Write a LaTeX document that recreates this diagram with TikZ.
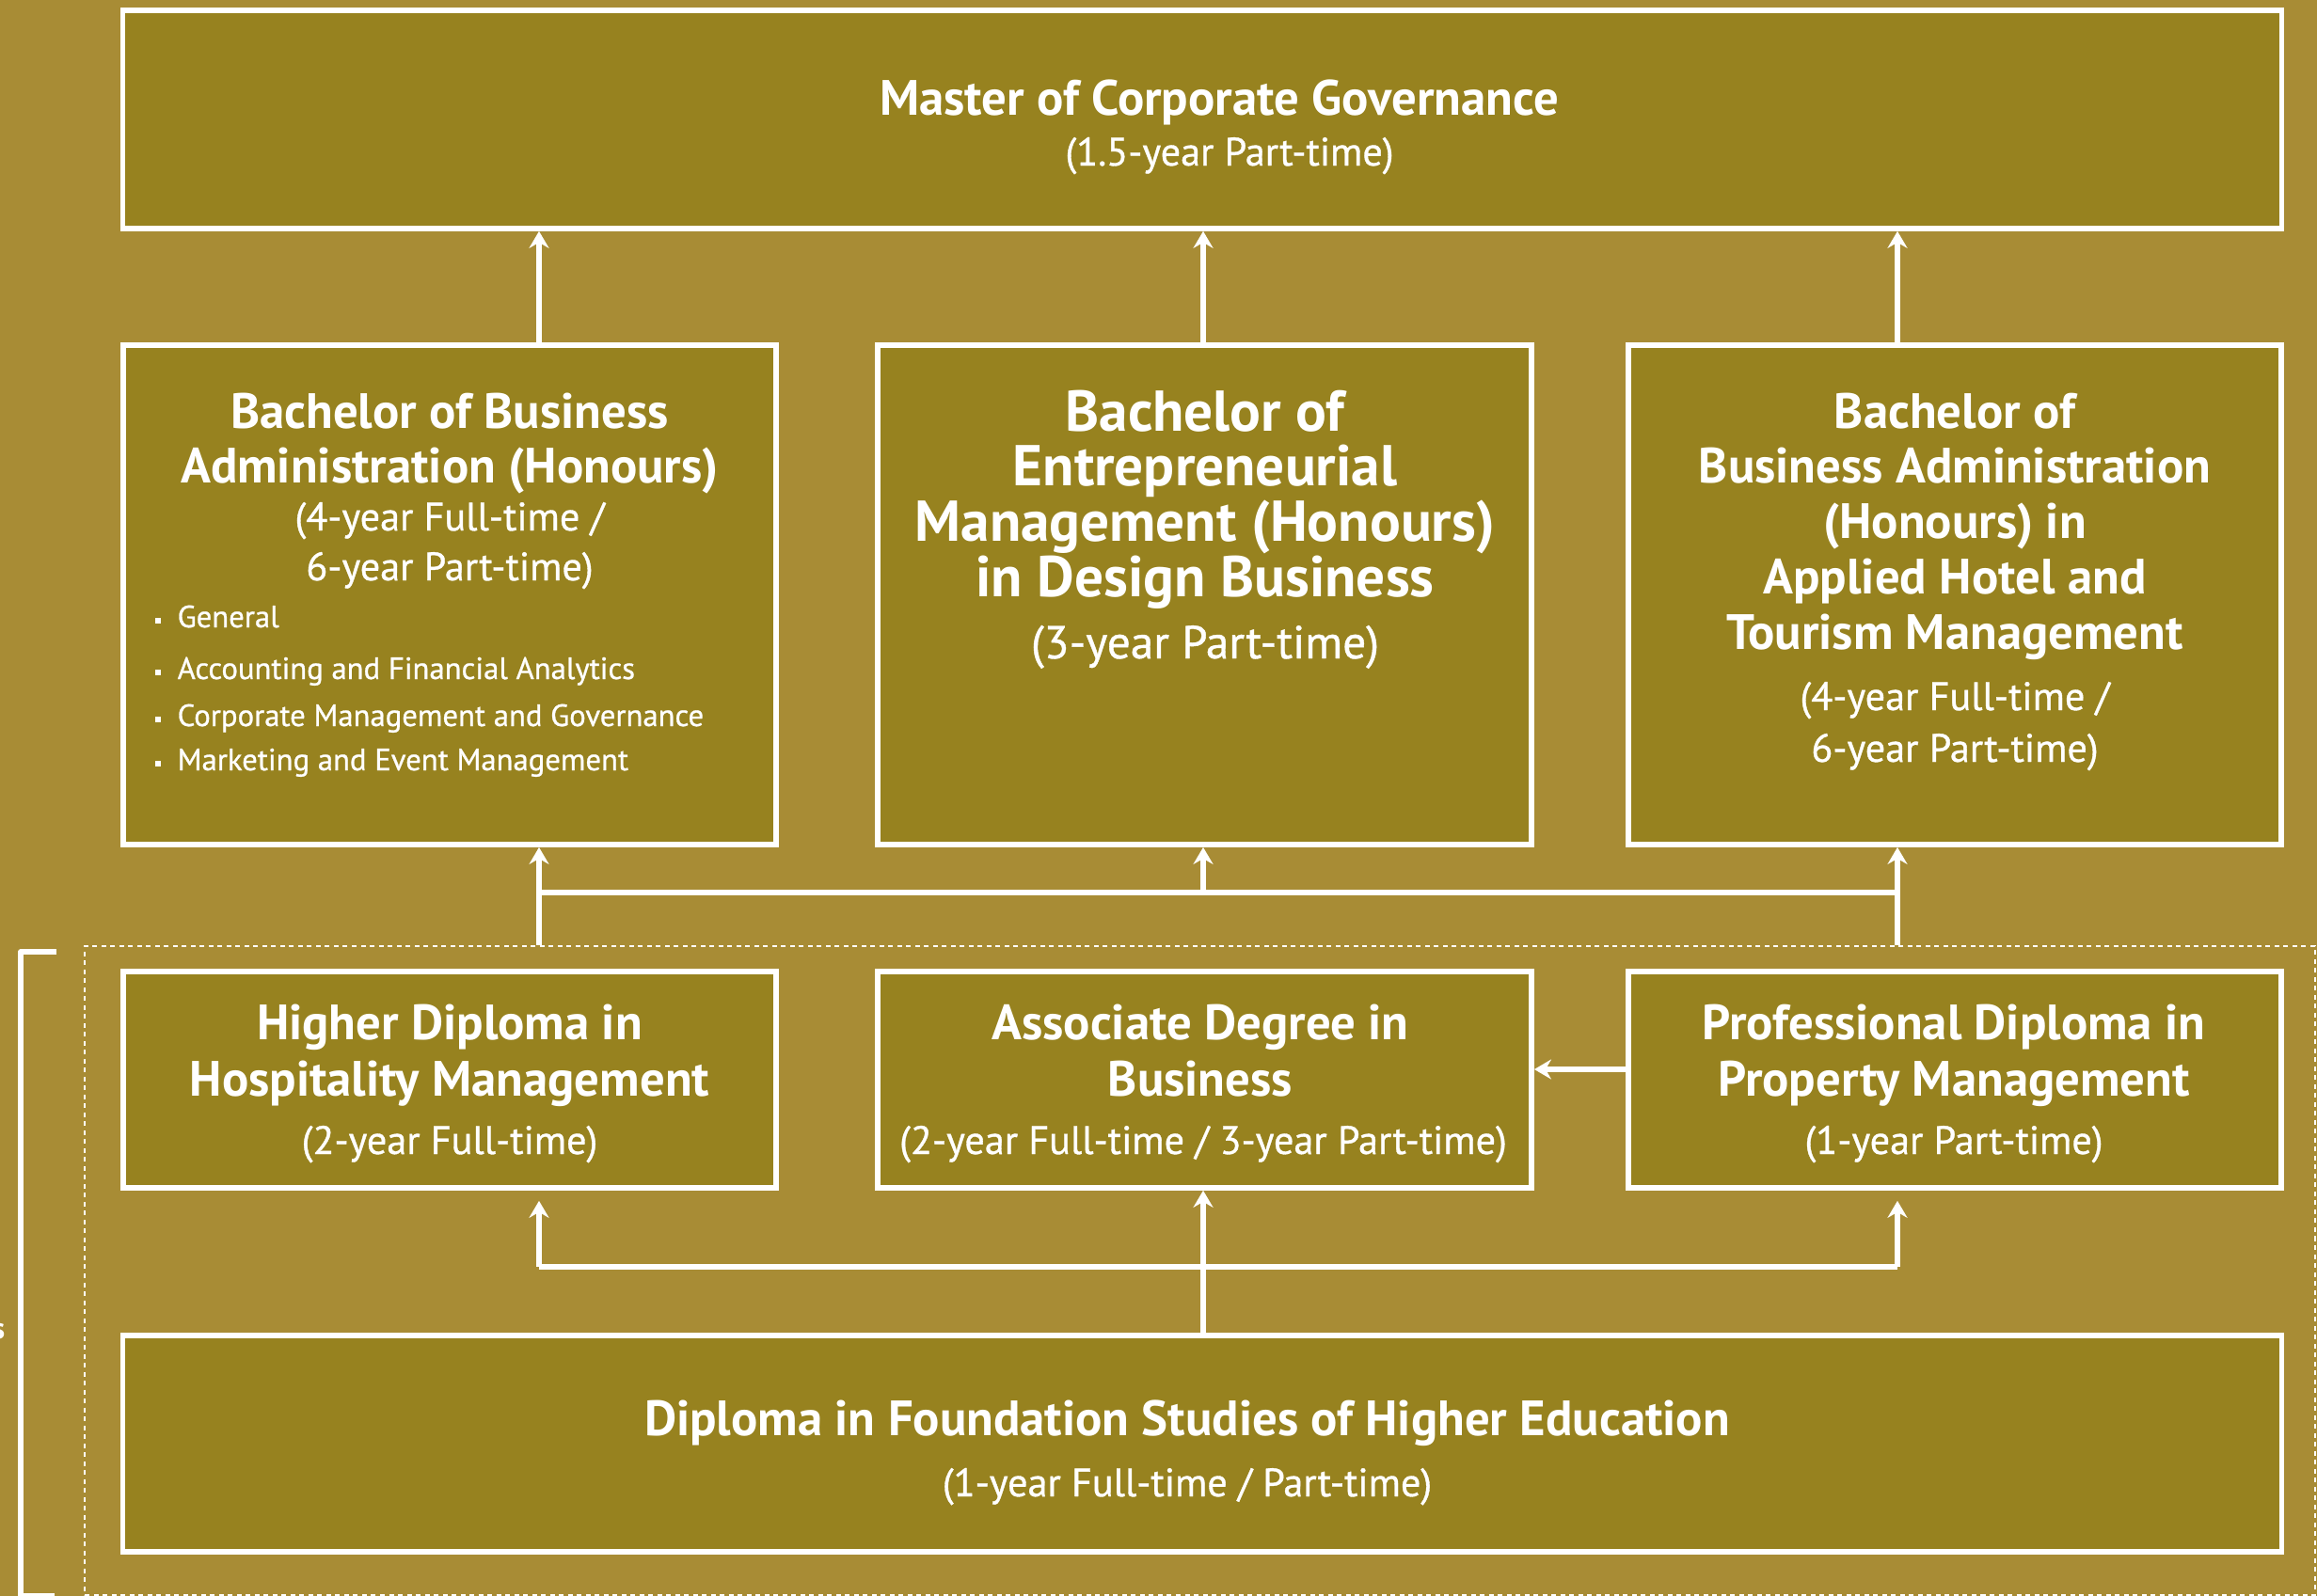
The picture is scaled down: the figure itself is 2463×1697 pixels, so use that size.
\documentclass[tikz,border=0pt]{standalone}
\usepackage{fontspec}
\setmainfont{PT Sans}
\newfontfamily\medfont{PT Sans}[FakeBold=0.8]
\usetikzlibrary{arrows.meta}
\definecolor{bgc}{HTML}{A88C35}
\definecolor{boxc}{HTML}{97821F}
\tikzset{
  box/.style={draw=white, line width=0.055cm, fill=boxc, inner sep=0, minimum height=#1},
  conn/.style={draw=white, line width=0.055cm},
  arr/.style={conn, -{Stealth[length=0.18cm, width=0.21cm, inset=0.06cm]}},
  ttl/.style={text=white, inner sep=0, anchor=base, font=\bfseries\fontsize{15}{17}\selectfont},
  ttlbig/.style={text=white, inner sep=0, anchor=base, font=\bfseries\fontsize{17.4}{20}\selectfont},
  sub/.style={text=white, inner sep=0, anchor=base, font=\medfont\fontsize{12}{14}\selectfont},
  subbig/.style={text=white, inner sep=0, anchor=base, font=\medfont\fontsize{14}{16}\selectfont},
  bul/.style={text=white, inner sep=0, anchor=base west, font=\medfont\fontsize{9.3}{11}\selectfont},
  sq/.style={fill=white, inner sep=0, minimum width=0.055cm, minimum height=0.065cm},
  grpbox/.style={draw=white, line width=0.022cm, dash pattern=on 0.05cm off 0.045cm, inner sep=0},
}
\begin{document}
\begin{tikzpicture}[x=0.01cm, y=-0.01cm]
\fill[bgc] (0,0) rectangle (2463,1697);
\useasboundingbox (0,0) rectangle (2463,1697);

% group (dashed) and bracket
\node[grpbox, minimum width=23.69cm, minimum height=6.9cm] (grp) at (1275.5,1351) {};
\draw[conn, line join=round] (60,1012) -- (22,1012) -- (22,1697) -- (58,1697);
\node[text=white, inner sep=0, anchor=base east, font=\bfseries\fontsize{9}{11}\selectfont] (frag) at (6,1423) {s};

% boxes
\node[box=2.32cm, minimum width=22.94cm] (top) at (1278,127) {};
\node[box=5.31cm, minimum width=6.94cm] (r2l) at (478,632.5) {};
\node[box=5.31cm, minimum width=6.95cm] (r2m) at (1280.5,632.5) {};
\node[box=5.31cm, minimum width=6.94cm] (r2r) at (2078,632.5) {};
\node[box=2.30cm, minimum width=6.94cm] (r3l) at (478,1148) {};
\node[box=2.30cm, minimum width=6.95cm] (r3m) at (1280.5,1148) {};
\node[box=2.30cm, minimum width=6.94cm] (r3r) at (2078,1148) {};
\node[box=2.30cm, minimum width=22.94cm] (bot) at (1278,1535) {};

% connector coordinates
\coordinate (xL) at (573,0);
\coordinate (xM) at (1279,0);
\coordinate (xR) at (2017,0);
\coordinate (hA) at (0,949);
\coordinate (hB) at (0,1347);
\coordinate (hC) at (0,1137);

% row 2 -> top
\draw[arr] (r2l.north -| xL) -- (top.south -| xL);
\draw[arr] (r2m.north -| xM) -- (top.south -| xM);
\draw[arr] (r2r.north -| xR) -- (top.south -| xR);

% group -> row 2
\draw[arr] (grp.north -| xL) -- (r2l.south -| xL);
\draw[arr] (grp.north -| xR) -- (r2r.south -| xR);
\draw[conn] (hA -| xL) -- (hA -| xR);
\draw[arr] (hA -| xM) -- (r2m.south -| xM);

% professional -> associate
\draw[arr] (r3r.west |- hC) -- (r3m.east |- hC);

% foundation -> row 3
\draw[arr] (bot.north -| xM) -- (r3m.south -| xM);
\draw[conn] (hB -| xL) -- (hB -| xR);
\draw[arr, shorten >=0.11cm] (hB -| xL) -- (r3l.south -| xL);
\draw[arr, shorten >=0.11cm] (hB -| xR) -- (r3r.south -| xR);

% texts: top
\node[ttl] (t1) at (1296,123) {Master of Corporate Governance};
\node[sub] (t2) at (1307,176) {(1.5-year Part-time)};

% row 2 left
\node[ttl] (a1) at (478,455) {Bachelor of Business};
\node[ttl] (a2) at (478,513) {Administration (Honours)};
\node[sub] (a3) at (478,564) {(4-year Full-time /};
\node[sub] (a4) at (478,617) {6-year Part-time)};
\node[sq] (s1) at (168,660) {};
\node[sq] (s2) at (168,715) {};
\node[sq] (s3) at (168,765) {};
\node[sq] (s4) at (168,812) {};
\node[bul] (b1) at (188,667) {General};
\node[bul] (b2) at (188,722) {Accounting and Financial Analytics};
\node[bul] (b3) at (188,772) {Corporate Management and Governance};
\node[bul] (b4) at (188,819) {Marketing and Event Management};

% row 2 middle
\node[ttlbig] (m1) at (1281,458) {Bachelor of};
\node[ttlbig] (m2) at (1281,516) {Entrepreneurial};
\node[ttlbig] (m3) at (1281,575) {Management (Honours)};
\node[ttlbig] (m4) at (1281,634) {in Design Business};
\node[subbig] (m5) at (1281,700) {(3-year Part-time)};

% row 2 right
\node[ttl] (c1) at (2078,455) {Bachelor of};
\node[ttl] (c2) at (2078,513) {Business Administration};
\node[ttl] (c3) at (2078,572) {(Honours) in};
\node[ttl] (c4) at (2078,631) {Applied Hotel and};
\node[ttl] (c5) at (2078,690) {Tourism Management};
\node[sub] (c6) at (2078,755) {(4-year Full-time /};
\node[sub] (c7) at (2078,810) {6-year Part-time)};

% row 3
\node[ttl] (d1) at (478,1105) {Higher Diploma in};
\node[ttl] (d2) at (478,1165) {Hospitality Management};
\node[sub] (d3) at (478,1227) {(2-year Full-time)};
\node[ttl] (e1) at (1276,1105) {Associate Degree in};
\node[ttl] (e2) at (1276,1165) {Business};
\node[sub] (e3) at (1279,1227) {(2-year Full-time / 3-year Part-time)};
\node[ttl] (f1) at (2077,1105) {Professional Diploma in};
\node[ttl] (f2) at (2077,1165) {Property Management};
\node[sub] (f3) at (2077,1227) {(1-year Part-time)};

% bottom
\node[ttl] (g1) at (1262,1526) {Diploma in Foundation Studies of Higher Education};
\node[sub] (g2) at (1262,1591) {(1-year Full-time / Part-time)};
\end{tikzpicture}
\end{document}
